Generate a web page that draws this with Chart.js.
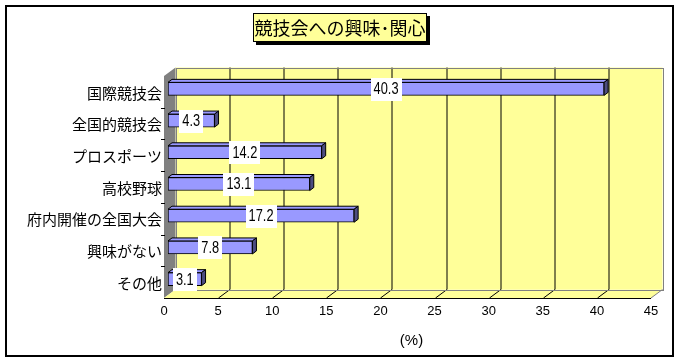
<!DOCTYPE html>
<html>
<head>
<meta charset="utf-8">
<script src="https://cdn.jsdelivr.net/npm/chart.js@4"></script>
<style>
  body { margin: 0; background: #fff; }
  canvas { display: block; }
</style>
</head>
<body>
<canvas id="chart" width="681" height="363"></canvas>
<script>
// data
const titleText = '競技会への興味･関心';
const categories = ['国際競技会', '全国的競技会', 'プロスポーツ', '高校野球', '府内開催の全国大会', '興味がない', 'その他'];
const values = [40.3, 4.3, 14.2, 13.1, 17.2, 7.8, 3.1];
const xMin = 0, xMax = 45, xStep = 5;
const xTitle = '(%)';

const YELLOW = '#FFFF99';
const BAR = '#9999FF';
const BAR_SIDE = '#4D4D80';

// depth offsets (front plane / back plane relative to bars)
const fx = -4, fy = 3, bx = 7.5, by = -5.5;

function poly(c, pts, fill, stroke) {
  c.beginPath();
  c.moveTo(pts[0][0], pts[0][1]);
  for (let i = 1; i < pts.length; i++) c.lineTo(pts[i][0], pts[i][1]);
  c.closePath();
  if (fill) { c.fillStyle = fill; c.fill(); }
  if (stroke) { c.strokeStyle = stroke; c.stroke(); }
}

const wallPlugin = {
  id: 'walls',
  beforeDraw(chart) {
    const c = chart.ctx;
    c.save();
    c.fillStyle = '#fff';
    c.fillRect(0, 0, chart.width, chart.height);
    c.strokeStyle = '#000';
    c.lineWidth = 2;
    c.strokeRect(6, 6, 667, 350);
    // title box with shadow
    c.fillStyle = '#000';
    c.fillRect(256, 16, 174, 29);
    c.fillStyle = YELLOW;
    c.fillRect(253, 13, 174, 29);
    c.lineWidth = 1;
    c.strokeRect(253.5, 13.5, 173, 28);
    c.fillStyle = '#000';
    c.font = '18px "Noto Sans CJK JP"';
    c.textAlign = 'center';
    c.textBaseline = 'middle';
    c.fillText(titleText, 340, 28);
    c.restore();
  },
  beforeDatasetsDraw(chart) {
    const c = chart.ctx, a = chart.chartArea, xs = chart.scales.x;
    const L = a.left, R = a.right, T = a.top, B = a.bottom;
    c.save();
    c.lineWidth = 1;
    // back wall
    c.fillStyle = YELLOW;
    c.fillRect(L + bx, T + by, R - L, B - T);
    // side wall
    poly(c, [[L + fx, T + fy], [L + bx, T + by], [L + bx, B + by], [L + fx, B + fy]], '#808080');
    // floor
    poly(c, [[L + fx, B + fy], [L + bx, B + by], [R + bx, B + by], [R + fx, B + fy]], YELLOW);
    // grid lines on back wall and floor
    c.strokeStyle = '#000';
    for (let v = xMin + xStep; v < xMax; v += xStep) {
      const px = Math.round(xs.getPixelForValue(v)) + 0.5;
      c.beginPath();
      c.moveTo(px + bx, T + by);
      c.lineTo(px + bx, B + by);
      c.stroke();
      c.beginPath();
      c.moveTo(px + fx, B + fy);
      c.lineTo(px + bx, B + by);
      c.stroke();
    }
    // back wall border
    c.strokeStyle = '#808080';
    c.strokeRect(Math.round(L + bx) + 0.5, Math.round(T + by) + 0.5, R - L, B - T);
    c.beginPath();
    c.moveTo(R + fx, B + fy);
    c.lineTo(R + bx, B + by);
    c.stroke();
    // front axis line
    c.strokeStyle = '#000';
    c.beginPath();
    c.moveTo(L + fx, Math.round(B + fy) + 0.5);
    c.lineTo(R + fx, Math.round(B + fy) + 0.5);
    c.stroke();
    // category tick marks
    const ys = chart.scales.y;
    for (let i = 1; i < categories.length; i++) {
      const y = Math.round((ys.getPixelForValue(i - 1) + ys.getPixelForValue(i)) / 2 + fy) + 0.5;
      c.beginPath();
      c.moveTo(L + fx - 3, y);
      c.lineTo(L + fx + 1, y);
      c.stroke();
    }
    c.restore();
  },
  afterDatasetsDraw(chart) {
    const c = chart.ctx;
    const meta = chart.getDatasetMeta(0);
    const d = 4, e = 3;
    c.save();
    c.lineWidth = 1;
    meta.data.forEach((bar, i) => {
      const p = bar.getProps(['x', 'y', 'base', 'height'], true);
      const t = p.y - p.height / 2, b = p.y + p.height / 2;
      poly(c, [[p.base, t], [p.base + d, t - e], [p.x + d, t - e], [p.x, t]], BAR, '#000');
      poly(c, [[p.x, t], [p.x + d, t - e], [p.x + d, b - e], [p.x, b]], BAR_SIDE, '#000');
    });
    // value labels in white boxes
    meta.data.forEach((bar, i) => {
      const p = bar.getProps(['x', 'y', 'base'], true);
      const txt = values[i].toFixed(1);
      c.font = '16px "Liberation Sans"';
      const w = c.measureText(txt).width * 0.8;
      const cx = (p.base + p.x) / 2, cy = p.y;
      c.fillStyle = '#fff';
      c.fillRect(Math.round(cx - w / 2 - 3), Math.round(cy - 11), Math.round(w + 6), 23);
      c.save();
      c.translate(cx, cy + 1);
      c.scale(0.8, 1);
      c.fillStyle = '#000';
      c.textAlign = 'center';
      c.textBaseline = 'middle';
      c.fillText(txt, 0, 0);
      c.restore();
    });
    c.restore();
  }
};

new Chart(document.getElementById('chart'), {
  type: 'bar',
  data: {
    labels: categories,
    datasets: [{
      data: values,
      backgroundColor: BAR,
      borderColor: '#000',
      borderWidth: 1,
      borderSkipped: false,
      barThickness: 13
    }]
  },
  options: {
    indexAxis: 'y',
    responsive: false,
    animation: false,
    layout: { padding: { top: 73, left: 0, right: 26, bottom: 0 } },
    plugins: {
      legend: { display: false },
      tooltip: { enabled: false }
    },
    scales: {
      x: {
        min: xMin,
        max: xMax,
        grid: { display: false, drawTicks: false },
        border: { display: false },
        ticks: {
          stepSize: xStep,
          labelOffset: -4,
          padding: 9,
          color: '#000',
          font: { family: 'Liberation Sans', size: 13 }
        },
        title: {
          display: true,
          text: xTitle,
          color: '#000',
          font: { family: 'Liberation Sans', size: 15 },
          padding: { top: 0, bottom: 13 }
        },
        afterFit(s) { s.height = 68; }
      },
      y: {
        grid: { display: false, drawTicks: false },
        border: { display: false },
        ticks: {
          autoSkip: false,
          padding: 6,
          labelOffset: 4,
          color: '#000',
          font: { family: 'Noto Sans CJK JP', size: 15 }
        },
        afterFit(s) { s.width = 168; }
      }
    }
  },
  plugins: [wallPlugin]
});
</script>
</body>
</html>
